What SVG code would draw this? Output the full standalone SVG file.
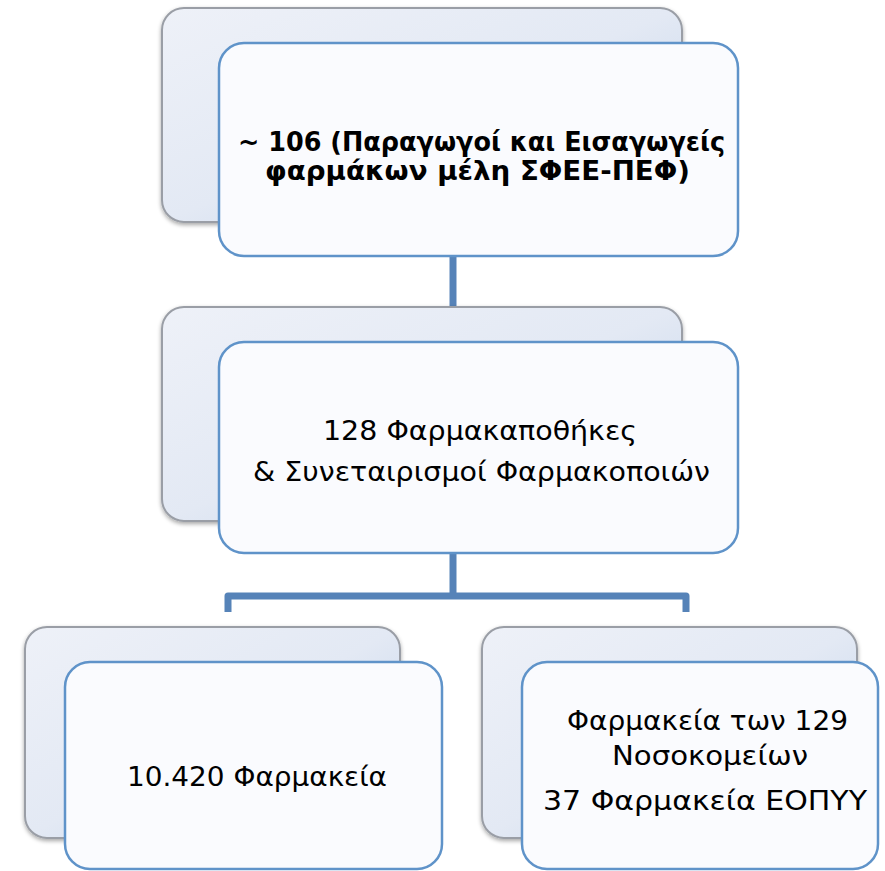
<svg xmlns="http://www.w3.org/2000/svg" width="885" height="871" viewBox="0 0 885 871">
<defs>
  <linearGradient id="backGrad" x1="0" y1="0" x2="1" y2="1">
    <stop offset="0" stop-color="#eef1f8"/>
    <stop offset="0.5" stop-color="#e3e9f4"/>
    <stop offset="1" stop-color="#b9cde8"/>
  </linearGradient>
  <filter id="shadow" x="-10%" y="-10%" width="120%" height="125%">
    <feGaussianBlur in="SourceAlpha" stdDeviation="2"/>
    <feOffset dx="0" dy="2"/>
    <feComponentTransfer><feFuncA type="linear" slope="0.35"/></feComponentTransfer>
    <feMerge><feMergeNode/><feMergeNode in="SourceGraphic"/></feMerge>
  </filter>
</defs>
<style>
  .back { fill: url(#backGrad); stroke: #9a9ea6; stroke-width: 2; filter: url(#shadow); }
  .front { fill: #fafbfe; stroke: #5f93c9; stroke-width: 2.5; }
  .conn { fill: none; stroke: #5683b8; stroke-width: 7; stroke-linejoin: round; }
  .t { font-family: "DejaVu Sans", "Liberation Sans", sans-serif; fill: #000; }
  .tb { font-weight: bold; font-size: 26px; }
  .tr { font-size: 27px; }
</style>
<rect width="885" height="871" fill="#ffffff"/>

<g id="connectors">
  <path class="conn" d="M453 256 V307"/>
  <path class="conn" d="M453 553 V596 M228 612 V596 H686 V612"/>
</g>

<g id="node-producers">
  <rect class="back" x="162" y="8" width="520" height="214" rx="22"/>
  <rect class="front" x="219" y="43" width="519" height="213" rx="25"/>
  <text class="t tb" x="238" y="151" textLength="487" lengthAdjust="spacingAndGlyphs">~ 106 (Παραγωγοί και Εισαγωγείς</text>
  <text class="t tb" x="265" y="180" textLength="425" lengthAdjust="spacingAndGlyphs">φαρμάκων μέλη ΣΦΕΕ-ΠΕΦ)</text>
</g>

<g id="node-wholesalers">
  <rect class="back" x="162" y="307" width="520" height="214" rx="22"/>
  <rect class="front" x="219" y="342" width="519" height="211" rx="25"/>
  <text class="t tr" x="323" y="440" textLength="314" lengthAdjust="spacingAndGlyphs">128 Φαρμακαποθήκες</text>
  <text class="t tr" x="253" y="481" textLength="457" lengthAdjust="spacingAndGlyphs">&amp; Συνεταιρισμοί Φαρμακοποιών</text>
</g>

<g id="node-pharmacies">
  <rect class="back" x="25" y="627" width="375" height="211" rx="22"/>
  <rect class="front" x="65" y="662" width="377" height="207" rx="25"/>
  <text class="t tr" x="127" y="786" textLength="260" lengthAdjust="spacingAndGlyphs">10.420 Φαρμακεία</text>
</g>

<g id="node-hospitals">
  <rect class="back" x="482" y="627" width="375" height="211" rx="22"/>
  <rect class="front" x="522" y="662" width="356" height="207" rx="25"/>
  <text class="t tr" x="567" y="730" textLength="281" lengthAdjust="spacingAndGlyphs">Φαρμακεία των 129</text>
  <text class="t tr" x="612" y="765" textLength="196" lengthAdjust="spacingAndGlyphs">Νοσοκομείων</text>
  <text class="t tr" x="543" y="810" textLength="324" lengthAdjust="spacingAndGlyphs">37 Φαρμακεία ΕΟΠΥΥ</text>
</g>
</svg>
